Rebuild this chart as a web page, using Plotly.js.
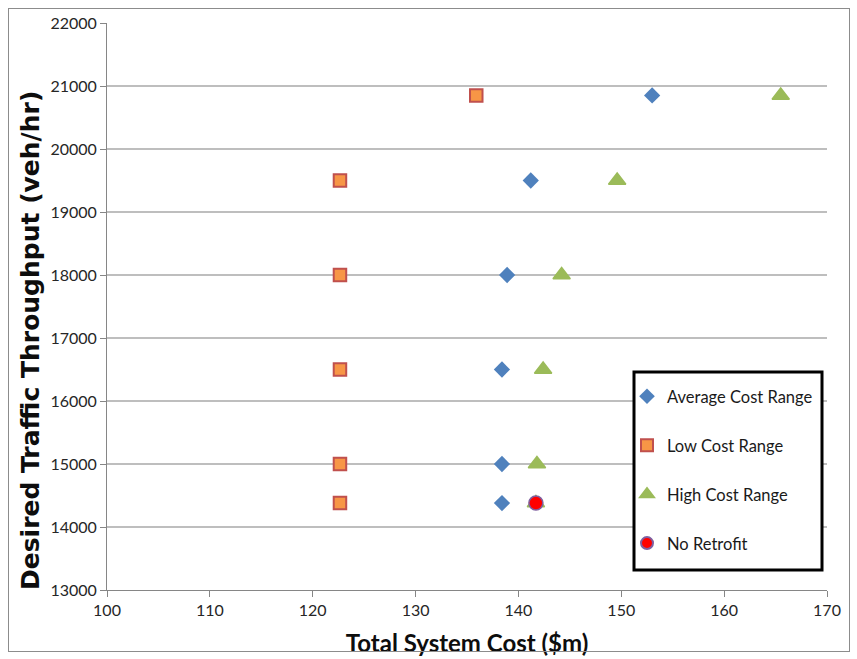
<!DOCTYPE html>
<html><head><meta charset="utf-8">
<script src="https://cdn.plot.ly/plotly-3.0.1.min.js"></script>
<style>html,body{margin:0;padding:0;background:#fff}#wrap{position:relative;width:857px;height:659px}#chart{width:857px;height:659px}#frame{position:absolute;left:8px;top:8px;width:840px;height:642px;border:1px solid #8c8c8c;pointer-events:none}</style>
</head><body><div id="wrap"><div id="chart"></div><div id="frame"></div></div>
<script>
const avgCost = [153.0, 141.2, 138.9, 138.4, 138.4, 138.4];
const avgThr  = [20850, 19500, 18000, 16500, 15000, 14380];
const lowCost = [135.9, 122.65, 122.65, 122.65, 122.65, 122.65];
const lowThr  = [20850, 19500, 18000, 16500, 15000, 14380];
const highCost = [165.5, 149.6, 144.2, 142.4, 141.8, 141.7];
const highThr  = [20850, 19500, 18000, 16500, 15000, 14380];
const noRetroCost = [141.7];
const noRetroThr  = [14380];
const xTicks = [100,110,120,130,140,150,160,170];
const yTicks = [13000,14000,15000,16000,17000,18000,19000,20000,21000,22000];
const yTitle = 'Desired Traffic Throughput (veh/hr)';

const F = 'Lato, "Open Sans", sans-serif';
const traces = [
 {x: avgCost, y: avgThr, name: 'Average Cost Range', mode: 'markers', type: 'scatter', legendgroup:'a',
  marker: {symbol: 'diamond', size: 12.5, color: '#4f81bd', line:{width:0}}},
 {x: lowCost, y: lowThr, name: 'Low Cost Range', mode: 'markers', type: 'scatter', legendgroup:'b',
  marker: {symbol: 'square', size: 12.5, color: '#f79646', line:{width:2, color:'#c0504d'}}},
 {x: highCost, y: highThr, name: 'High Cost Range', mode: 'markers', type: 'scatter', legendgroup:'c',
  marker: {symbol: 'triangle-up', size: 15, color: '#9bbb59', line:{width:1.5, color:'#9bbb59'}}},
 {x: noRetroCost, y: noRetroThr, name: 'No Retrofit', mode: 'markers', type: 'scatter', legendgroup:'d',
  marker: {symbol: 'circle', size: 14, color: '#ff0000', line:{width:1.5, color:'#7f5f9f'}}}
];
const layout = {
 width: 857, height: 659,
 margin: {l:107, r:30, t:23, b:69},
 paper_bgcolor:'#fff', plot_bgcolor:'#fff',
 font: {family: F, color:'#262626', size: 16},
 showlegend: true,
 legend: {x: (627-107)/720, y: (590-379)/567, xanchor:'left', yanchor:'top', bgcolor:'rgba(0,0,0,0)', borderwidth:0,
   font:{family:F, size:16.5, color:'#1a1a1a'}, traceorder:'grouped', tracegroupgap: 24.5, itemwidth:30, itemsizing:'constant'},
 shapes: [{type:'rect', xref:'paper', yref:'paper', x0:(634-107)/720, x1:(822-107)/720, y0:(590-570)/567, y1:(590-372)/567,
   line:{color:'#000', width:3}, fillcolor:'#fff', layer:'above'}],
 annotations: [{text:'<b>'+yTitle+'</b>', textangle:-90, xref:'paper', yref:'paper', x:(30-107)/720, y:(590-341)/567,
   xanchor:'center', yanchor:'middle', showarrow:false, font:{size:25, family:'"DejaVu Sans", sans-serif', color:'#0d0d0d'}}],
 xaxis: {range:[100,170], tickvals: xTicks, showgrid:false, zeroline:false, showline:true, linecolor:'#868686', linewidth:1,
   ticks:'outside', ticklen:6, tickcolor:'#868686', tickfont:{size:16, family:F, color:'#262626'},
   title:{text:'<b>Total System Cost ($m)</b>', font:{size:24, family:F, color:'#0d0d0d'}, standoff: 16}},
 yaxis: {range:[13000,22000], tickvals: yTicks, tickformat:'d', showgrid:true, gridcolor:'#bebebe', gridwidth:1.2, zeroline:false, showline:true,
   linecolor:'#868686', linewidth:1, ticks:'outside', ticklen:6, tickcolor:'#868686', tickfont:{size:16, family:F, color:'#262626'}}
};
Plotly.newPlot('chart', traces, layout, {displayModeBar:false, staticPlot:true});
</script></body></html>
